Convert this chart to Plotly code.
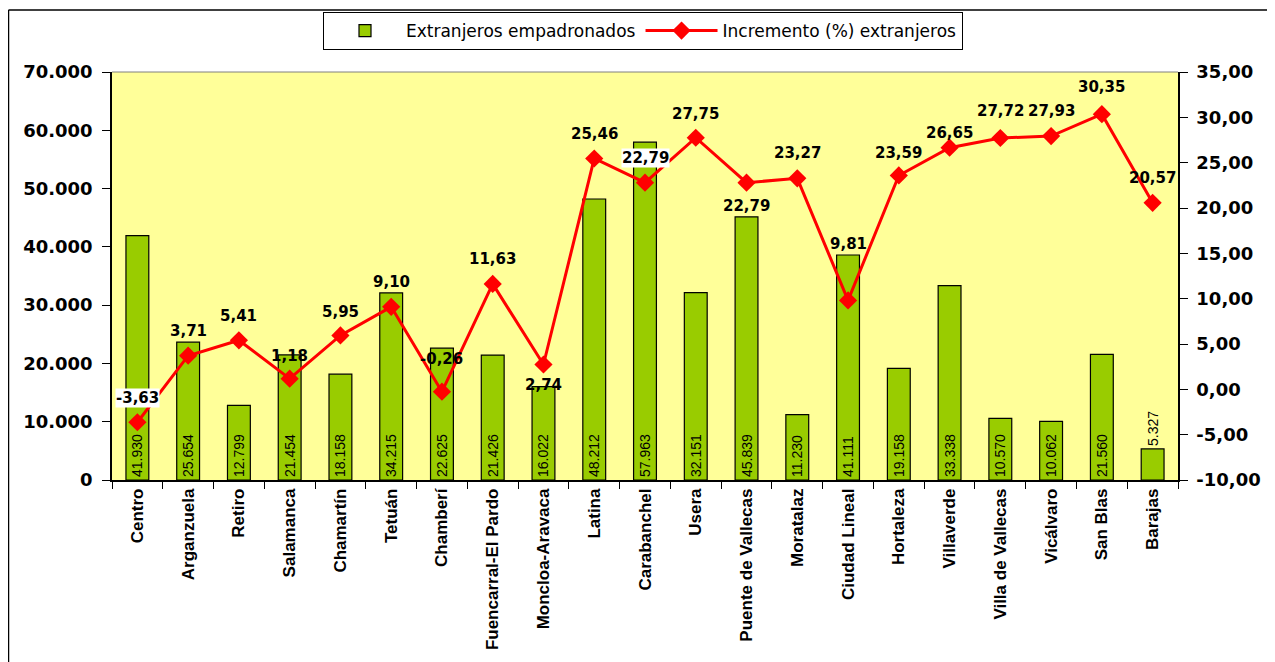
import plotly.graph_objects as go

# ---- data ----
distritos = ["Centro", "Arganzuela", "Retiro", "Salamanca", "Chamartín", "Tetuán",
             "Chamberí", "Fuencarral-El Pardo", "Moncloa-Aravaca", "Latina",
             "Carabanchel", "Usera", "Puente de Vallecas", "Moratalaz", "Ciudad Lineal",
             "Hortaleza", "Villaverde", "Villa de Vallecas", "Vicálvaro", "San Blas", "Barajas"]
# bar heights as drawn
extranjeros = [41930, 23650, 12799, 21454, 18158, 32100, 22625, 21426, 16022, 48212,
               57963, 32151, 45150, 11230, 38600, 19158, 33338, 10570, 10062, 21560, 5327]
# labels as printed on bars
extranjeros_txt = ["41.930", "25.654", "12.799", "21.454", "18.158", "34.215", "22.625",
                   "21.426", "16.022", "48.212", "57.963", "32.151", "45.839", "11.230",
                   "41.111", "19.158", "33.338", "10.570", "10.062", "21.560", "5.327"]
incremento = [-3.63, 3.71, 5.41, 1.18, 5.95, 9.10, -0.26, 11.63, 2.74, 25.46,
              22.79, 27.75, 22.79, 23.27, 9.81, 23.59, 26.65, 27.72, 27.93, 30.35, 20.57]

left_ticks = list(range(0, 70001, 10000))
right_ticks = list(range(-10, 36, 5))

# label offsets (px, style only)
label_dy = [24, 25, 24, 23, 23, 25, 33, 25, -21, 25, 25, 24, -23, 25, 56, 22, 15, 27, 25, 27, 25]
label_bg = ["white" if i in (0, 10) else "rgba(0,0,0,0)" for i in range(len(distritos))]

GREEN = "#99CC00"
RED = "#FF0000"
SANS = "Liberation Sans, Arial, sans-serif"
WIDE = "DejaVu Sans, Verdana, sans-serif"

fig = go.Figure()
fig.add_trace(go.Bar(
    x=distritos, y=extranjeros, name="Extranjeros empadronados",
    marker=dict(color=GREEN, line=dict(color="black", width=1.2)),
    width=0.45,
    text=extranjeros_txt,
    textposition=["inside"] * (len(distritos) - 1) + ["outside"],
    insidetextanchor="start", textangle=-90, constraintext="none",
    textfont=dict(family=SANS, size=14, color="black"),
    cliponaxis=False,
))
fig.add_trace(go.Scatter(
    x=distritos, y=incremento, name="Incremento (%) extranjeros", yaxis="y2",
    mode="lines+markers",
    line=dict(color=RED, width=3),
    marker=dict(symbol="diamond", size=14, color=RED),
    cliponaxis=False,
))

for i, (d, v) in enumerate(zip(distritos, incremento)):
    fig.add_annotation(
        x=d, y=v, xref="x", yref="y2", text=f"{v:.2f}".replace(".", ","),
        showarrow=False, yshift=label_dy[i], bgcolor=label_bg[i], borderpad=0,
        font=dict(family=WIDE, size=15, color="black", weight="bold"),
    )

# page has an 8px body margin: figure origin sits at page (8, 8)
OFF = 8
W, H = 1275 - OFF, 662 - OFF
L = 112 - OFF
T = 72 - OFF
R = W - (1178 - OFF)
B = H - (480 - OFF)
pw, ph = W - L - R, H - T - B
def px(xpage):
    return (xpage - OFF - L) / pw
def py(ypage):
    return (H - B - (ypage - OFF)) / ph

shapes = [
    dict(type="line", xref="paper", yref="paper", x0=0, x1=1, y0=1, y1=1,
         line=dict(color="#808080", width=1)),
    dict(type="line", xref="paper", yref="paper", x0=px(8.5), x1=px(8.5), y0=py(10), y1=py(700),
         line=dict(color="black", width=1.5)),
    dict(type="line", xref="paper", yref="paper", x0=px(8.5), x1=px(1300), y0=py(10), y1=py(10),
         line=dict(color="black", width=1.5)),
]

fig.update_layout(
    width=W, height=H,
    margin=dict(l=L, r=R, t=T, b=B, autoexpand=False),
    paper_bgcolor="white", plot_bgcolor="#FFFF99",
    showlegend=True,
    legend=dict(orientation="h", x=px(643), xanchor="center", y=py(12), yanchor="top",
                bgcolor="white", bordercolor="black", borderwidth=1,
                font=dict(family=WIDE, size=17, color="black"),
                itemwidth=72, tracegroupgap=0),
    xaxis=dict(type="category", showline=True, linecolor="black", linewidth=1.5,
               ticks="outside", tickson="boundaries", ticklen=7, tickcolor="black",
               tickangle=-90, showgrid=False, automargin=False,
               tickfont=dict(family=SANS, size=17, color="black", weight="bold"),
               range=[-0.5, len(distritos) - 0.5]),
    yaxis=dict(range=[0, 70000], tickvals=left_ticks,
               ticktext=[f"{v:,}".replace(",", ".") for v in left_ticks],
               showline=True, automargin=False, ticklabelstandoff=6,
               linecolor="black", linewidth=1.5, ticks="outside", ticklen=8, tickcolor="black",
               showgrid=False, zeroline=False,
               tickfont=dict(family=WIDE, size=18, color="black", weight="bold")),
    yaxis2=dict(range=[-10, 35], tickvals=right_ticks,
                ticktext=[f"{v:.2f}".replace(".", ",") for v in right_ticks],
                overlaying="y", side="right", automargin=False, ticklabelstandoff=5,
                showline=True, linecolor="black", linewidth=1.5, ticks="outside", ticklen=8,
                tickcolor="black", showgrid=False, zeroline=False,
                tickfont=dict(family=WIDE, size=18, color="black", weight="bold")),
    shapes=shapes,
)

fig.write_html("out.html")
